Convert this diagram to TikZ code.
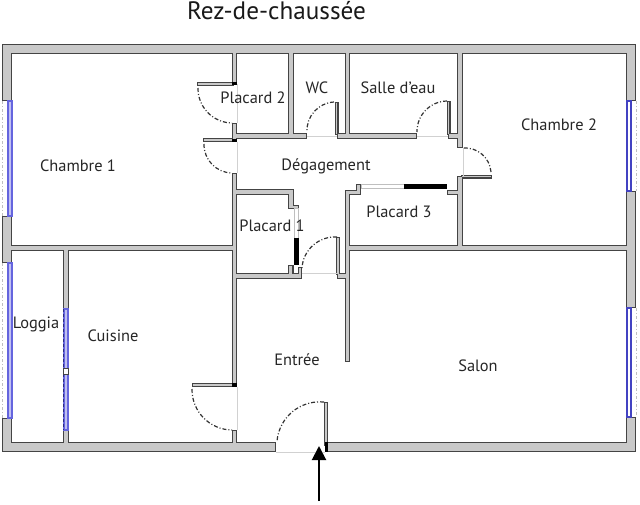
\documentclass[tikz,border=0pt]{standalone}
\usepackage{fontspec}
\setmainfont{PT Sans}
\usetikzlibrary{arrows.meta}

\definecolor{wallgray}{HTML}{C9C9C9}
\definecolor{walldark}{HTML}{444444}
\definecolor{glass}{HTML}{4A4AD8}

\tikzset{
    room/.style={font=\fontsize{16.4}{18}\selectfont,text=black!85,inner sep=0pt},
    title/.style={font=\fontsize{25.2}{28}\selectfont,text=black!90,inner sep=0pt},
    doorarc/.style={line width=1.2pt,black!80,dash pattern=on 4pt off 2pt on 1pt off 2pt},
    sill/.style={line width=0.7pt,black!18},
    outerpane/.style={line width=0.9pt,black!25,dash pattern=on 3pt off 2pt on 1pt off 2pt},
    pane/.style={draw=glass!90!black,line width=1.1pt,fill=white},
    thickpane/.style={draw=glass!85,line width=1.2pt,fill=glass!35},
    cupboard/.style={draw=black!25,line width=0.7pt,fill=white},
}

% walls: xa/ya/xb/yb, outer edges of the dark outline
\def\walllist{
    2/44/636/54, 2/44/12/101, 2/216/12/263, 2/418/12/452,
    2/442/276/452, 325/442/636/452,
    626/44/636/101, 626/191/636/308, 626/417/636/452,
    5/245/234/251, 347/245/630/251,
    232/50/237/84, 232/123/237/142, 232/173/237/385, 232/430/237/446,
    288/50/294/136, 345/50/350/136, 457/50/463/148, 457/176/463/248,
    345/190/350/362, 63/248/69/309, 63/430/69/446,
    234/133/307/139, 337/133/417/139, 448/133/460/139,
    447/190/460/195, 345/190/361/195, 356/184/361/195,
    234/189/294/195, 288/189/294/208, 288/205/299/209,
    234/273/302/279, 288/265/293.5/276, 298/267/302/279, 337/273/347/279,
    197/82/234/86, 203/138/234/142, 461/175/492/178.5, 192/383/234/387,
    334.5/102/338.5/135, 446.5/101/450.5/135, 336/237/340/275, 324/402/328/446}

\begin{document}
\begin{tikzpicture}[x=1pt,y=-1pt]
    \useasboundingbox (0,0) rectangle (640,504);

    % dark outline first, then the grey over it so that the walls merge
    \foreach \xa/\ya/\xb/\yb in \walllist
        \draw[walldark,line width=2.8pt] ({\xa+1.4},{\ya+1.4}) rectangle ({\xb-1.4},{\yb-1.4});
    \foreach \xa/\ya/\xb/\yb in \walllist
        \fill[wallgray] ({\xa+1.4},{\ya+1.4}) rectangle ({\xb-1.4},{\yb-1.4});

    % windows
    \draw[thickpane] (8,101) rectangle (12,216);
    \draw[thickpane] (8,263) rectangle (12,418);
    \draw[outerpane] (2,101) -- (2,216);
    \draw[outerpane] (2,263) -- (2,418);
    \draw[pane] (627,101) rectangle (631,191);
    \draw[pane] (627,308) rectangle (631,417);
    \draw[outerpane] (636,101) -- (636,191);
    \draw[outerpane] (636,308) -- (636,417);
    \draw[thickpane] (64,309) rectangle (68,430);
    \draw[glass!60!black,line width=0.8pt,densely dashed] (63.5,309) -- (63.5,430);
    \draw[walldark,line width=1pt,fill=white] (63.5,368.5) rectangle (68.5,374);

    % thresholds
    \foreach \xa/\ya/\xb/\yb in {237/84/237/123, 237/142/237/173, 237/387/237/430,
        307/136/337/136, 417/136/448/136, 463/148/463/176, 302/273/337/273, 276/452/325/452}
        \draw[sill] (\xa,\ya) -- (\xb,\yb);

    % cupboard doors
    \draw[cupboard] (361,184.5) rectangle (404,188.5);
    \fill[black] (404,184) rectangle (447,189);
    \draw[cupboard] (294.5,208) rectangle (298.5,238);
    \fill[black] (294,238) rectangle (299,265);

    % black ticks at the hinges
    \foreach \xa/\ya/\xb/\yb in {232/82/237/85, 232/139/237/142, 232/383/237/387, 325/442/328/452}
        \fill[black] (\xa,\ya) rectangle (\xb,\yb);

    % door swings
    \foreach \xa/\ya/\xb/\yb in {198/88/232/123, 204/144/232/173, 192/389/232/430,
        334/102/307/132, 447/101/417/132, 337/237/302/268, 324/402/277/441, 491/172/463/148}
        \draw[doorarc] (\xa,\ya) to[bend right=45] (\xb,\yb);

    \node[title] (titre) at (276.5,11) {Rez-de-chaussée};
    \node[room] (chambre1) at (78,166) {Chambre 1};
    \node[room] (placard2) at (253,98) {Placard 2};
    \node[room] (wc) at (317,88) {WC};
    \node[room] (eau) at (398,88) {Salle d'eau};
    \node[room] (chambre2) at (559,125) {Chambre 2};
    \node[room] (degagement) at (326,166) {Dégagement};
    \node[room] (placard3) at (399,212) {Placard 3};
    \node[room] (placard1) at (272,226) {Placard 1};
    \node[room] (loggia) at (36,324) {Loggia};
    \node[room] (cuisine) at (113,336) {Cuisine};
    \node[room] (entree) at (297,360) {Entrée};
    \node[room] (salon) at (478,366) {Salon};

    \coordinate (pied) at (319,501);
    \coordinate (seuil) at (319,446);
    \draw[-{Triangle[width=14pt,length=14pt]},line width=2pt,black] (pied) -- (seuil);
\end{tikzpicture}
\end{document}
